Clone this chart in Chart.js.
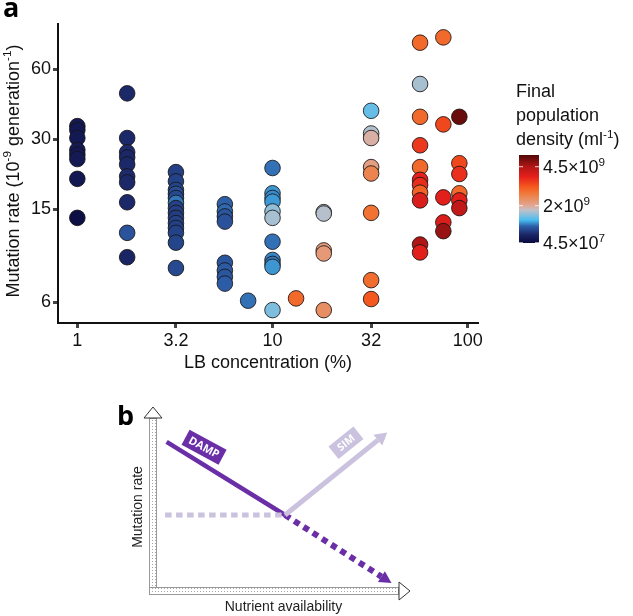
<!DOCTYPE html>
<html><head><meta charset="utf-8">
<script src="https://cdn.jsdelivr.net/npm/chart.js@4.4.1/dist/chart.umd.min.js"></script>
<style>
html,body{margin:0;padding:0;background:#fff;}
body{width:633px;height:616px;position:relative;overflow:hidden;}
#cA{position:absolute;left:0;top:0;}
#cB{position:absolute;left:100px;top:380px;}
</style></head><body>
<canvas id="cA" width="633" height="380"></canvas>
<canvas id="cB" width="340" height="236"></canvas>
<script>
const FONT = "'Liberation Sans', Arial, sans-serif";
const BOLD = "'Open Sans', 'Liberation Sans', sans-serif";

// ---------- Panel a data ----------
const lbConcentration = [1, 1.8, 3.2, 5.7, 7.5, 10, 13.2, 18.3, 32, 57, 75, 90.6];
const mutationRate = [
  [34.2, 32.9, 30.4, 27.0, 25.8, 24.7, 20.3, 13.8],
  [47.3, 30.4, 26.4, 25.1, 23.4, 20.8, 19.6, 16.1, 11.9, 9.35],
  [21.7, 19.8, 18.2, 17.5, 16.8, 16.0, 15.2, 14.5, 13.8, 13.1, 12.5, 11.9, 10.8, 8.4],
  [15.8, 14.7, 14.0, 13.3, 8.85, 8.2, 7.7, 7.2],
  [6.08],
  [22.6, 17.6, 16.8, 16.2, 14.7, 13.8, 10.9, 9.1, 8.75, 8.5, 5.54],
  [6.22],
  [14.6, 14.4, 10.0, 9.7, 5.54],
  [39.8, 31.8, 30.4, 22.8, 21.4, 14.5, 7.45, 6.18],
  [78.1, 51.9, 37.5, 28.3, 22.8, 20.1, 19.1, 17.7, 16.4, 10.6, 9.8],
  [82.3, 34.8, 16.9, 13.2, 12.1],
  [37.5, 23.7, 21.3, 17.6, 16.4, 15.2]
];
// final population density, x10^9 per ml
const finalDensity = [
  [0.28, 0.25, 0.27, 0.30, 0.26, 0.28, 0.25, 0.12],
  [0.50, 0.50, 0.52, 0.48, 0.50, 0.52, 0.50, 0.50, 0.83, 0.45],
  [0.68, 0.70, 0.72, 0.80, 0.75, 1.00, 0.70, 0.68, 0.66, 0.70, 0.68, 0.70, 0.72, 0.75],
  [0.92, 0.95, 0.85, 0.82, 0.85, 0.88, 0.85, 0.90],
  [0.98],
  [0.98, 1.10, 1.07, 1.12, 1.56, 1.65, 0.98, 1.05, 1.00, 1.10, 1.47],
  [2.99],
  [1.70, 1.72, 2.20, 2.25, 2.43],
  [1.37, 1.70, 1.93, 2.15, 2.60, 2.88, 2.94, 3.22],
  [2.99, 1.65, 2.99, 3.56, 2.99, 3.84, 3.70, 3.10, 4.00, 4.50, 3.90],
  [2.99, 3.40, 3.90, 4.00, 4.70],
  [5.06, 3.40, 3.67, 2.99, 3.90, 4.30]
];
const xTickValues = [1, 3.2, 10, 32, 100];
const xTickLabels = ['1', '3.2', '10', '32', '100'];
const yTickValues = [6, 15, 30, 60];
const yTickLabels = ['6', '15', '30', '60'];
const densityTickValues = [4.5, 2, 0.045];
const densityTickLabels = [['4.5×10', '9'], ['2×10', '9'], ['4.5×10', '7']];

// ---------- colour scale (style) ----------
const cmapStops = [
  [0.00, '#0a0a3c'], [0.10, '#1c2868'], [0.19, '#2d5ea8'], [0.26, '#48bdf0'],
  [0.375, '#c2c0c8'], [0.424, '#e0a894'], [0.57, '#f07636'], [0.64, '#f4581e'],
  [0.75, '#e6201c'], [0.87, '#b01616'], [1.00, '#500808']
];
const fracKnots = [[0, 0], [0.045, 0.003], [2, 0.424], [4.5, 0.867], [5.25, 1]];
function densityToFrac(v) {
  for (let i = 1; i < fracKnots.length; i++) {
    const a = fracKnots[i - 1], b = fracKnots[i];
    if (v <= b[0]) return a[1] + (v - a[0]) / (b[0] - a[0]) * (b[1] - a[1]);
  }
  return 1;
}
function hex2rgb(h) { return [parseInt(h.slice(1, 3), 16), parseInt(h.slice(3, 5), 16), parseInt(h.slice(5, 7), 16)]; }
function colorAtFrac(f) {
  f = Math.max(0, Math.min(1, f));
  for (let i = 1; i < cmapStops.length; i++) {
    const a = cmapStops[i - 1], b = cmapStops[i];
    if (f <= b[0]) {
      const t = (f - a[0]) / (b[0] - a[0]);
      const ca = hex2rgb(a[1]), cb = hex2rgb(b[1]);
      const c = ca.map((x, k) => Math.round(x + (cb[k] - x) * t));
      return 'rgb(' + c.join(',') + ')';
    }
  }
  return cmapStops[cmapStops.length - 1][1];
}

const points = [], pointColors = [];
lbConcentration.forEach((c, i) => {
  mutationRate[i].forEach((r, j) => {
    points.push({ x: c, y: r });
    pointColors.push(colorAtFrac(densityToFrac(finalDensity[i][j])));
  });
});

function richWidth(ctx, runs, size) {
  let w = 0;
  runs.forEach(r => { ctx.font = (r.sup ? size * 0.65 : size) + 'px ' + FONT; w += ctx.measureText(r.t).width; });
  return w;
}
function drawRich(ctx, runs, x, y, size, color) {
  let cx = x;
  ctx.textAlign = 'left'; ctx.textBaseline = 'alphabetic'; ctx.fillStyle = color;
  runs.forEach(r => {
    const s = r.sup ? size * 0.65 : size;
    ctx.font = s + 'px ' + FONT;
    ctx.fillText(r.t, cx, r.sup ? y - size * 0.4 : y);
    cx += ctx.measureText(r.t).width;
  });
}

const decorA = {
  id: 'decorA',
  afterDraw(chart) {
    const ctx = chart.ctx;
    ctx.save();
    // panel letter
    ctx.fillStyle = '#000'; ctx.font = 'bold 27px ' + BOLD; ctx.textBaseline = 'alphabetic'; ctx.textAlign = 'left';
    ctx.fillText('a', 3, 17);
    // y title
    const yRuns = [{ t: 'Mutation rate (10' }, { t: '-9', sup: true }, { t: ' generation' }, { t: '-1', sup: true }, { t: ')' }];
    ctx.save();
    ctx.translate(18.5, 171);
    ctx.rotate(-Math.PI / 2);
    const w = richWidth(ctx, yRuns, 18);
    drawRich(ctx, yRuns, -w / 2, 0, 18, '#111');
    ctx.restore();
    // legend title
    drawRich(ctx, [{ t: 'Final' }], 516, 96.5, 18, '#111');
    drawRich(ctx, [{ t: 'population' }], 516, 121, 18, '#111');
    drawRich(ctx, [{ t: 'density (ml' }, { t: '-1', sup: true }, { t: ')' }], 516, 145, 18, '#111');
    // colour bar
    const bx = 519, bw = 20, btop = 155, bbot = 243, bh = bbot - btop;
    const g = ctx.createLinearGradient(0, bbot, 0, btop);
    cmapStops.forEach(s => g.addColorStop(s[0], s[1]));
    ctx.fillStyle = g;
    ctx.fillRect(bx, btop, bw, bh);
    densityTickValues.forEach((v, i) => {
      const y = bbot - densityToFrac(v) * bh;
      ctx.strokeStyle = 'rgba(255,255,255,0.8)'; ctx.lineWidth = 1;
      ctx.beginPath();
      ctx.moveTo(bx, y); ctx.lineTo(bx + 4, y);
      ctx.moveTo(bx + bw - 4, y); ctx.lineTo(bx + bw, y);
      ctx.stroke();
      const lab = densityTickLabels[i];
      drawRich(ctx, [{ t: lab[0] }, { t: lab[1], sup: true }], 543, y + 6.3, 18, '#111');
    });
    ctx.restore();
  }
};

new Chart(document.getElementById('cA'), {
  type: 'scatter',
  data: { datasets: [{
    data: points,
    backgroundColor: pointColors,
    borderColor: 'rgba(25,20,20,0.85)',
    borderWidth: 1,
    pointRadius: 7.8,
    pointHoverRadius: 7.8
  }] },
  options: {
    responsive: false, animation: false,
    layout: { padding: { left: 0, top: 24, right: 155, bottom: 0 } },
    plugins: { legend: { display: false }, tooltip: { enabled: false } },
    scales: {
      x: {
        type: 'logarithmic', min: 0.796, max: 112.9,
        afterFit(s) { s.height = 57; },
        afterBuildTicks(s) { s.ticks = xTickValues.map(v => ({ value: v })); },
        ticks: { autoSkip: false, maxRotation: 0, minRotation: 0, padding: 2, color: '#111',
          font: { size: 18, family: FONT }, callback: (v, i) => xTickLabels[i] },
        grid: { drawOnChartArea: false, tickLength: 5, tickWidth: 3, tickColor: '#444' },
        border: { display: true, color: '#111', width: 2 },
        title: { display: true, text: 'LB concentration (%)', color: '#111',
          font: { size: 18, family: FONT }, padding: { top: 0, bottom: 6 } }
      },
      y: {
        type: 'logarithmic', min: 4.876, max: 93.95,
        afterFit(s) { s.width = 58; },
        afterBuildTicks(s) { s.ticks = yTickValues.map(v => ({ value: v })); },
        ticks: { autoSkip: false, padding: 2, color: '#111',
          font: { size: 18, family: FONT }, callback: (v, i) => yTickLabels[i] },
        grid: { drawOnChartArea: false, tickLength: 5, tickWidth: 3, tickColor: '#444' },
        border: { display: true, color: '#111', width: 2 }
      }
    }
  },
  plugins: [decorA]
});

// ---------- Panel b (schematic) data ----------
const flatRate = [{ x: 3.2, y: 41.3 }, { x: 50.6, y: 41.3 }];
const simRate = [{ x: 50.6, y: 41.3 }, { x: 87.3, y: 82.0 }];
const dampRate = [{ x: 3.8, y: 81.0 }, { x: 50.6, y: 41.3 }];
const dampProjected = [{ x: 50.6, y: 41.3 }, { x: 88.7, y: 7.8 }];
const PURPLE = '#6a2ea6', LAVENDER = '#cac2de';

const decorB = {
  id: 'decorB',
  beforeDatasetsDraw(chart) {
    const ctx = chart.ctx, a = chart.chartArea;
    const pc = document.createElement('canvas'); pc.width = 3; pc.height = 3;
    const p = pc.getContext('2d'); p.fillStyle = '#fff'; p.fillRect(0, 0, 3, 3);
    p.fillStyle = '#a8a8a8'; p.fillRect(1, 1, 1, 1);
    const pat = ctx.createPattern(pc, 'repeat');
    ctx.save();
    ctx.lineWidth = 1;
    // y axis shaft
    ctx.fillStyle = pat; ctx.strokeStyle = '#999';
    ctx.fillRect(a.left - 8, a.top + 11, 8, a.bottom + 4 - (a.top + 11));
    ctx.strokeRect(a.left - 8 + 0.5, a.top + 11 + 0.5, 7, a.bottom + 4 - (a.top + 11) - 1);
    // x axis shaft
    ctx.fillRect(a.left - 8, a.bottom - 4, a.right - 11 - (a.left - 8), 8);
    ctx.strokeRect(a.left - 8 + 0.5, a.bottom - 4 + 0.5, a.right - 11 - (a.left - 8) - 1, 7);
    ctx.fillRect(a.left - 7, a.bottom - 3, 6, 6);
    // heads
    ctx.fillStyle = '#fff'; ctx.strokeStyle = '#333';
    ctx.beginPath();
    ctx.moveTo(a.left - 13, a.top + 11); ctx.lineTo(a.left + 5, a.top + 11); ctx.lineTo(a.left - 4, a.top); ctx.closePath();
    ctx.fill(); ctx.stroke();
    ctx.beginPath();
    ctx.moveTo(a.right - 11, a.bottom - 9); ctx.lineTo(a.right - 11, a.bottom + 9); ctx.lineTo(a.right, a.bottom); ctx.closePath();
    ctx.fill(); ctx.stroke();
    // axis titles
    ctx.fillStyle = '#222'; ctx.font = '14px ' + FONT; ctx.textAlign = 'center'; ctx.textBaseline = 'middle';
    ctx.fillText('Nutrient availability', 183.5, 227);
    ctx.save(); ctx.translate(38, 127); ctx.rotate(-Math.PI / 2);
    ctx.fillText('Mutation rate', 0, 0); ctx.restore();
    // panel letter
    ctx.fillStyle = '#000'; ctx.font = 'bold 27px ' + BOLD; ctx.textAlign = 'left'; ctx.textBaseline = 'alphabetic';
    ctx.fillText('b', 17, 45);
    ctx.restore();
  },
  afterDatasetsDraw(chart) {
    const ctx = chart.ctx;
    ctx.save();
    chart.data.datasets.forEach((ds, i) => {
      const el = chart.getDatasetMeta(i).data;
      if (!ds.arrowHead || el.length < 2) return;
      const p0 = el[el.length - 2], p1 = el[el.length - 1];
      const ang = Math.atan2(p1.y - p0.y, p1.x - p0.x);
      const L = ds.arrowHead.len, W = ds.arrowHead.width;
      const ux = Math.cos(ang), uy = Math.sin(ang);
      ctx.fillStyle = ds.borderColor;
      ctx.beginPath();
      ctx.moveTo(p1.x + ux * L, p1.y + uy * L);
      ctx.lineTo(p1.x - uy * W / 2, p1.y + ux * W / 2);
      ctx.lineTo(p1.x + uy * W / 2, p1.y - ux * W / 2);
      ctx.closePath(); ctx.fill();
    });
    const sx = chart.scales.x, sy = chart.scales.y;
    function lineAngle(i) {
      const el = chart.getDatasetMeta(i).data;
      return Math.atan2(el[1].y - el[0].y, el[1].x - el[0].x);
    }
    function tag(text, at, ang, w, h, bg, fs) {
      ctx.save();
      ctx.translate(sx.getPixelForValue(at.x), sy.getPixelForValue(at.y));
      ctx.rotate(ang);
      ctx.fillStyle = bg; ctx.fillRect(-w / 2, -h / 2, w, h);
      ctx.fillStyle = '#fff'; ctx.font = 'bold ' + fs + 'px ' + BOLD; ctx.textAlign = 'center'; ctx.textBaseline = 'middle';
      ctx.fillText(text, 0, 0.5);
      ctx.restore();
    }
    const o = chart.options.plugins.decorB;
    tag('DAMP', o.dampTag, lineAngle(2) - 0.06, 42, 17, PURPLE, 11);
    tag('SIM', o.simTag, lineAngle(1), 32, 16, LAVENDER, 10.5);
    ctx.restore();
  }
};

new Chart(document.getElementById('cB'), {
  type: 'scatter',
  data: { datasets: [
    { data: flatRate, showLine: true, borderColor: LAVENDER, borderWidth: 5, borderDash: [6.5, 4.5], pointRadius: 0, borderCapStyle: 'butt' },
    { data: simRate, showLine: true, borderColor: LAVENDER, borderWidth: 5, pointRadius: 0, arrowHead: { len: 12, width: 14 } },
    { data: dampRate, showLine: true, borderColor: PURPLE, borderWidth: 4.5, pointRadius: 0 },
    { data: dampProjected, showLine: true, borderColor: PURPLE, borderWidth: 6, borderDash: [6, 5], pointRadius: 0, arrowHead: { len: 12, width: 13 } }
  ] },
  options: {
    responsive: false, animation: false,
    layout: { padding: { left: 57, top: 27, right: 30, bottom: 25 } },
    plugins: { legend: { display: false }, tooltip: { enabled: false },
      decorB: { dampTag: { x: 18.6, y: 78.1 }, simTag: { x: 74.7, y: 80.6 } } },
    scales: {
      x: { type: 'linear', min: 0, max: 100, display: false },
      y: { type: 'linear', min: 0, max: 100, display: false }
    }
  },
  plugins: [decorB]
});
</script>
</body></html>
